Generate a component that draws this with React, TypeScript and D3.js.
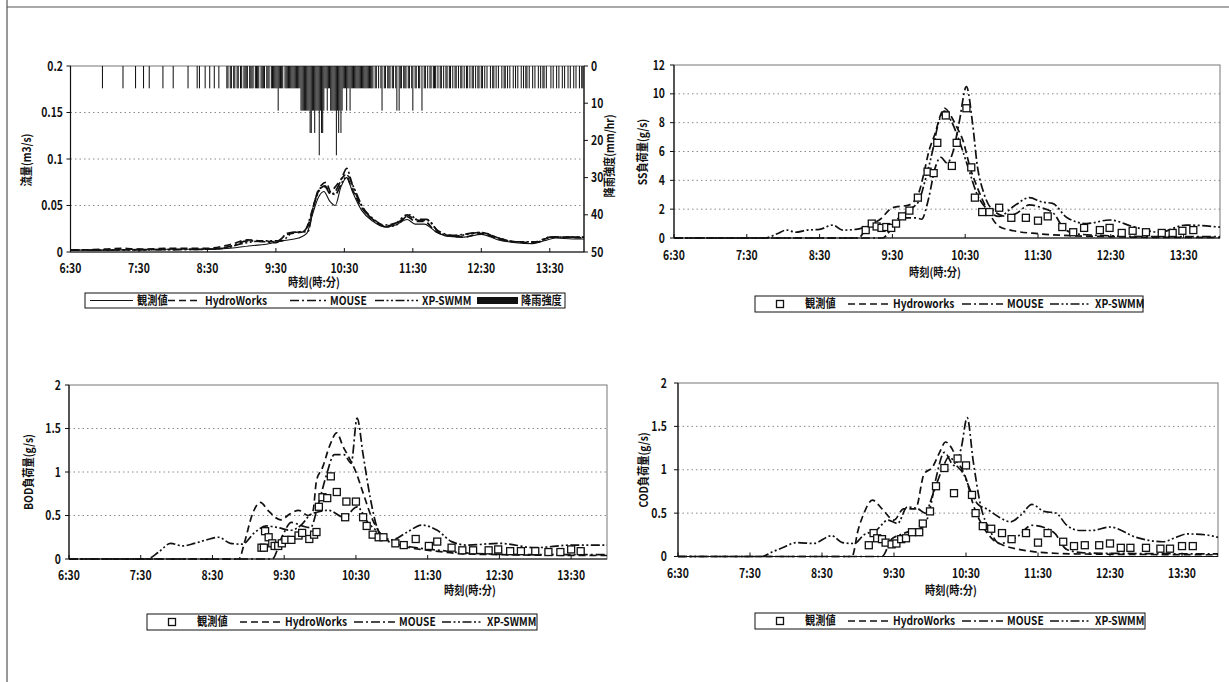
import React from 'react';
import * as d3 from 'd3';

type P = [string, number];

const timeStart = '6:30';
const timeEnd = '14:00';
const timeTicks = ['6:30', '7:30', '8:30', '9:30', '10:30', '11:30', '12:30', '13:30'];

const flowTicks = [0, 0.05, 0.1, 0.15, 0.2];
const rainTicks = [0, 10, 20, 30, 40, 50];
const ssTicks = [0, 2, 4, 6, 8, 10, 12];
const loadTicks = [0, 0.5, 1, 1.5, 2];

// rainfall intensity, one digit per minute from 6:30 (value = digit x rainUnit mm/hr)
const rainUnit = 6;
const rainCodes = [
  '000000000000000000000000000010',
  '000000000000000010000000000100',
  '000010000100000000000100000000',
  '100000000000010000000101000010',
  '001000100010000001101101101101',
  '101111011110111101111011101111',
  '112111101111111111111122222222',
  '332232224233211211222224232321',
  '112112111111111111111111110110',
  '101201101110110120211011101101',
  '201101102011010110111010110101',
  '101101011010110101101011010110',
  '110101001011010100101101010010',
  '101001010110100101001010110100',
  '010100101001010010100101001011',
];

// ---- flow (m3/s)
const flowObs: P[] = [
  ['6:30', 0.002], ['7:00', 0.002], ['7:30', 0.003], ['8:00', 0.003], ['8:30', 0.003], ['8:50', 0.004],
  ['9:10', 0.007], ['9:20', 0.008], ['9:35', 0.012], ['9:50', 0.015], ['9:57', 0.02], ['10:02', 0.04],
  ['10:07', 0.058], ['10:12', 0.065], ['10:17', 0.055], ['10:22', 0.05], ['10:27', 0.07], ['10:32', 0.08],
  ['10:37', 0.065], ['10:45', 0.045], ['10:55', 0.033], ['11:05', 0.027], ['11:15', 0.029], ['11:25', 0.035],
  ['11:32', 0.03], ['11:40', 0.03], ['11:50', 0.022], ['12:00', 0.017], ['12:15', 0.016], ['12:30', 0.019],
  ['12:45', 0.013], ['13:00', 0.01], ['13:15', 0.009], ['13:25', 0.012], ['13:35', 0.015], ['13:50', 0.014], ['14:00', 0.014],
];
const flowHW: P[] = [
  ['6:30', 0.002], ['7:00', 0.003], ['7:15', 0.004], ['7:30', 0.003], ['8:00', 0.004], ['8:30', 0.004], ['8:50', 0.008],
  ['9:05', 0.013], ['9:15', 0.012], ['9:30', 0.011], ['9:40', 0.019], ['9:55', 0.022], ['10:00', 0.035], ['10:05', 0.058],
  ['10:10', 0.072], ['10:14', 0.075], ['10:18', 0.065], ['10:22', 0.07], ['10:27', 0.078], ['10:31', 0.083], ['10:36', 0.07],
  ['10:45', 0.048], ['10:55', 0.035], ['11:05', 0.028], ['11:15', 0.03], ['11:25', 0.038], ['11:32', 0.033], ['11:40', 0.033],
  ['11:50', 0.022], ['12:00', 0.018], ['12:15', 0.016], ['12:30', 0.02], ['12:45', 0.014], ['13:00', 0.011], ['13:15', 0.01],
  ['13:25', 0.014], ['13:35', 0.016], ['14:00', 0.015],
];
const flowMOUSE: P[] = [
  ['6:30', 0.002], ['8:30', 0.003], ['8:50', 0.006], ['9:05', 0.012], ['9:20', 0.011], ['9:30', 0.01], ['9:40', 0.02],
  ['9:55', 0.023], ['10:02', 0.045], ['10:08', 0.068], ['10:13', 0.07], ['10:18', 0.062], ['10:22', 0.065], ['10:28', 0.08],
  ['10:32', 0.09], ['10:37', 0.072], ['10:45', 0.05], ['10:55', 0.036], ['11:05', 0.029], ['11:15', 0.031], ['11:25', 0.04],
  ['11:32', 0.035], ['11:42', 0.035], ['11:52', 0.023], ['12:05', 0.018], ['12:30', 0.021], ['12:45', 0.015], ['13:00', 0.011],
  ['13:20', 0.011], ['13:30', 0.016], ['14:00', 0.016],
];
const flowXP: P[] = [
  ['6:30', 0.002], ['8:30', 0.003], ['8:45', 0.004], ['9:00', 0.009], ['9:20', 0.012], ['9:35', 0.012], ['9:45', 0.021],
  ['9:58', 0.022], ['10:03', 0.05], ['10:08', 0.066], ['10:13', 0.071], ['10:18', 0.063], ['10:22', 0.062], ['10:28', 0.075],
  ['10:33', 0.082], ['10:38', 0.07], ['10:47', 0.046], ['10:57', 0.033], ['11:07', 0.027], ['11:17', 0.03], ['11:27', 0.04],
  ['11:35', 0.034], ['11:43', 0.034], ['11:53', 0.021], ['12:05', 0.017], ['12:30', 0.021], ['12:45', 0.015], ['13:00', 0.011],
  ['13:20', 0.011], ['13:30', 0.016], ['14:00', 0.016],
];

// ---- SS load (g/s)
const ssObs: P[] = [
  ['9:08', 0.55], ['9:13', 1.0], ['9:17', 0.8], ['9:21', 0.7], ['9:25', 0.76], ['9:29', 0.7], ['9:33', 1.0], ['9:38', 1.5],
  ['9:44', 1.9], ['9:51', 2.8], ['9:59', 4.6], ['10:04', 4.5], ['10:07', 6.6], ['10:14', 8.5], ['10:19', 5.0], ['10:23', 6.6],
  ['10:31', 9.0], ['10:35', 4.9], ['10:38', 2.8], ['10:44', 1.8], ['10:50', 1.8], ['10:58', 2.1], ['11:08', 1.4], ['11:20', 1.4],
  ['11:30', 1.2], ['11:38', 1.5], ['11:50', 0.76], ['11:59', 0.4], ['12:08', 0.7], ['12:21', 0.55], ['12:29', 0.7], ['12:39', 0.35],
  ['12:48', 0.5], ['12:59', 0.4], ['13:12', 0.35], ['13:21', 0.35], ['13:29', 0.5], ['13:38', 0.55],
];
const ssHW: P[] = [
  ['6:30', 0], ['9:02', 0], ['9:08', 0.6], ['9:12', 0.9], ['9:20', 1.3], ['9:30', 2.1], ['9:44', 2.3], ['9:52', 3.2],
  ['9:56', 4.5], ['10:00', 6.0], ['10:05', 7.2], ['10:10', 8.6], ['10:13', 9.0], ['10:18', 8.5], ['10:23', 7.7], ['10:28', 6.8],
  ['10:34', 4.9], ['10:40', 3.5], ['10:48', 2.0], ['10:58', 0.8], ['11:10', 0.5], ['11:30', 0.3], ['12:00', 0.15], ['12:30', 0.1],
  ['13:00', 0.05], ['14:00', 0.05],
];
const ssMOUSE: P[] = [
  ['6:30', 0], ['9:22', 0], ['9:28', 0.5], ['9:36', 1.4], ['9:50', 1.4], ['9:54', 1.3], ['10:00', 2.8], ['10:05', 4.8],
  ['10:10', 5.6], ['10:15', 5.2], ['10:20', 6.0], ['10:25', 8.0], ['10:31', 10.5], ['10:36', 8.0], ['10:40', 5.0], ['10:45', 3.2],
  ['10:52', 2.0], ['11:04', 1.5], ['11:12', 1.7], ['11:23', 2.3], ['11:33', 2.1], ['11:43', 1.7], ['11:50', 0.8], ['12:00', 0.3],
  ['12:30', 0.15], ['13:00', 0.1], ['14:00', 0.1],
];
const ssXP: P[] = [
  ['6:30', 0], ['7:45', 0], ['7:55', 0.3], ['8:03', 0.55], ['8:10', 0.4], ['8:20', 0.55], ['8:30', 0.6], ['8:41', 0.9],
  ['8:49', 0.55], ['9:00', 0.6], ['9:08', 0.75], ['9:15', 0.9], ['9:25', 0.7], ['9:35', 1.2], ['9:42', 1.9], ['9:48', 2.2],
  ['9:52', 2.6], ['9:57', 4.0], ['10:03', 6.0], ['10:08', 8.0], ['10:13', 8.8], ['10:18', 8.2], ['10:24', 7.0], ['10:32', 5.0],
  ['10:40', 3.0], ['10:48', 2.0], ['10:58', 1.5], ['11:10', 2.2], ['11:23', 2.8], ['11:33', 2.5], ['11:42', 2.4], ['11:54', 1.4],
  ['12:10', 1.0], ['12:29', 1.25], ['12:48', 0.8], ['13:10', 0.4], ['13:32', 0.9], ['13:54', 0.8], ['14:00', 0.75],
];

// ---- BOD load (g/s)
const bodObs: P[] = [
  ['9:11', 0.13], ['9:13', 0.13], ['9:14', 0.32], ['9:17', 0.25], ['9:20', 0.18], ['9:22', 0.15], ['9:25', 0.15], ['9:28', 0.18],
  ['9:31', 0.22], ['9:36', 0.22], ['9:42', 0.27], ['9:45', 0.3], ['9:51', 0.23], ['9:55', 0.28], ['9:57', 0.31], ['9:59', 0.6],
  ['10:02', 0.71], ['10:06', 0.7], ['10:09', 0.95], ['10:14', 0.77], ['10:21', 0.48], ['10:22', 0.66], ['10:30', 0.66], ['10:36', 0.48],
  ['10:39', 0.38], ['10:44', 0.28], ['10:49', 0.25], ['10:53', 0.25], ['11:03', 0.18], ['11:10', 0.16], ['11:20', 0.23], ['11:31', 0.15],
  ['11:38', 0.2], ['11:50', 0.13], ['11:59', 0.1], ['12:08', 0.1], ['12:21', 0.1], ['12:29', 0.11], ['12:39', 0.09], ['12:48', 0.09],
  ['13:00', 0.09], ['13:11', 0.08], ['13:21', 0.08], ['13:30', 0.11], ['13:38', 0.09],
];
const bodHW: P[] = [
  ['6:30', 0], ['8:52', 0], ['8:57', 0.2], ['9:03', 0.5], ['9:10', 0.65], ['9:17', 0.55], ['9:27', 0.45], ['9:35', 0.52],
  ['9:42', 0.56], ['9:50', 0.5], ['9:54', 0.55], ['9:57', 0.9], ['10:02', 1.05], ['10:08', 1.3], ['10:14', 1.45], ['10:19', 1.3],
  ['10:24', 1.17], ['10:30', 1.0], ['10:35', 0.8], ['10:44', 0.45], ['10:53', 0.25], ['11:03', 0.18], ['11:15', 0.13], ['11:31', 0.1],
  ['12:00', 0.06], ['12:30', 0.05], ['14:00', 0.04],
];
const bodMOUSE: P[] = [
  ['6:30', 0], ['9:20', 0], ['9:28', 0.25], ['9:36', 0.42], ['9:45', 0.38], ['9:52', 0.36], ['9:58', 0.6], ['10:05', 0.95],
  ['10:12', 1.2], ['10:20', 1.2], ['10:26', 1.1], ['10:31', 1.62], ['10:36', 1.2], ['10:42', 0.7], ['10:48', 0.35], ['10:55', 0.22],
  ['11:05', 0.17], ['11:20', 0.13], ['11:40', 0.1], ['12:00', 0.07], ['13:00', 0.05], ['14:00', 0.05],
];
const bodXP: P[] = [
  ['6:30', 0], ['7:35', 0], ['7:45', 0.08], ['7:55', 0.18], ['8:05', 0.15], ['8:15', 0.18], ['8:25', 0.22], ['8:35', 0.25],
  ['8:45', 0.18], ['8:55', 0.17], ['9:05', 0.3], ['9:15', 0.38], ['9:25', 0.36], ['9:35', 0.33], ['9:45', 0.4], ['9:51', 0.5],
  ['9:58', 0.54], ['10:07', 0.56], ['10:20', 0.48], ['10:31', 0.6], ['10:40', 0.42], ['10:47', 0.33], ['11:00', 0.22], ['11:13', 0.31],
  ['11:25', 0.39], ['11:38', 0.33], ['11:50', 0.2], ['12:03', 0.16], ['12:30', 0.18], ['13:00', 0.13], ['13:30', 0.16], ['14:00', 0.16],
];

// ---- COD load (g/s)
const codObs: P[] = [
  ['9:09', 0.13], ['9:13', 0.27], ['9:16', 0.21], ['9:20', 0.2], ['9:23', 0.16], ['9:28', 0.14], ['9:32', 0.15], ['9:36', 0.2],
  ['9:40', 0.21], ['9:45', 0.28], ['9:51', 0.28], ['9:54', 0.38], ['10:00', 0.52], ['10:05', 0.81], ['10:12', 1.02], ['10:20', 0.73],
  ['10:23', 1.13], ['10:30', 1.05], ['10:35', 0.71], ['10:38', 0.5], ['10:44', 0.35], ['10:51', 0.32], ['11:00', 0.27], ['11:08', 0.2],
  ['11:20', 0.27], ['11:30', 0.16], ['11:38', 0.27], ['11:51', 0.17], ['12:00', 0.12], ['12:09', 0.13], ['12:21', 0.13], ['12:30', 0.15],
  ['12:39', 0.1], ['12:47', 0.1], ['13:00', 0.1], ['13:12', 0.09], ['13:20', 0.09], ['13:30', 0.12], ['13:39', 0.12],
];
const codHW: P[] = [
  ['6:30', 0], ['8:55', 0], ['9:00', 0.3], ['9:05', 0.5], ['9:12', 0.65], ['9:20', 0.55], ['9:30', 0.42], ['9:38', 0.55],
  ['9:48', 0.55], ['9:55', 0.95], ['10:02', 1.03], ['10:08', 1.2], ['10:13', 1.32], ['10:18', 1.25], ['10:23', 1.1], ['10:30', 0.9],
  ['10:36', 0.6], ['10:44', 0.35], ['10:52', 0.2], ['11:01', 0.13], ['11:15', 0.08], ['11:30', 0.05], ['12:00', 0.03], ['14:00', 0.02],
];
const codMOUSE: P[] = [
  ['6:30', 0], ['9:20', 0], ['9:28', 0.2], ['9:35', 0.25], ['9:45', 0.3], ['9:55', 0.35], ['10:00', 0.55], ['10:05', 0.9],
  ['10:12', 1.2], ['10:20', 1.05], ['10:26', 1.25], ['10:31', 1.6], ['10:36', 1.1], ['10:42', 0.6], ['10:50', 0.3], ['10:58', 0.15],
  ['11:12', 0.22], ['11:25', 0.36], ['11:43', 0.28], ['11:54', 0.08], ['12:10', 0.04], ['14:00', 0.03],
];
const codXP: P[] = [
  ['6:30', 0], ['7:40', 0], ['7:48', 0.05], ['7:57', 0.1], ['8:09', 0.16], ['8:23', 0.15], ['8:38', 0.24], ['8:47', 0.16],
  ['8:57', 0.15], ['9:05', 0.25], ['9:15', 0.3], ['9:25', 0.42], ['9:33', 0.38], ['9:41', 0.57], ['9:50', 0.55], ['9:56', 0.5],
  ['10:02', 0.7], ['10:10', 1.0], ['10:16', 1.15], ['10:22', 1.05], ['10:28', 0.95], ['10:34', 0.75], ['10:40', 0.6], ['10:47', 0.55],
  ['10:58', 0.45], ['11:07', 0.4], ['11:16', 0.48], ['11:25', 0.6], ['11:35', 0.52], ['11:45', 0.5], ['11:54', 0.36], ['12:05', 0.3],
  ['12:15', 0.3], ['12:30', 0.34], ['12:52', 0.22], ['13:14', 0.17], ['13:25', 0.22], ['13:34', 0.26], ['13:50', 0.25], ['14:00', 0.22],
];

// ---------------------------------------------------------------------------
const FONT = '"Noto Sans CJK JP", "Noto Sans", sans-serif';
const INK = '#111';
const toMin = (s: string) => {
  const [h, m] = s.split(':').map(Number);
  const [h0, m0] = timeStart.split(':').map(Number);
  return h * 60 + m - (h0 * 60 + m0);
};

const STY: Record<string, { dash: string | undefined; width: number }> = {
  obs: { dash: undefined, width: 1.1 },
  hw: { dash: '7,4', width: 1.7 },
  mouse: { dash: '9,3,2,3', width: 1.7 },
  xp: { dash: '9,2.5,2,2.5,2,2.5', width: 1.7 },
};

function T(props: {
  x: number; y: number; size?: number; sx?: number; anchor?: string; rotate?: number; weight?: string | number; children: any;
}) {
  const { x, y, size = 12, sx = 0.85, anchor = 'middle', rotate = 0, weight = 'bold', children } = props;
  return (
    <text
      transform={`translate(${x},${y}) rotate(${rotate}) scale(${sx},1)`}
      fontSize={size}
      textAnchor={anchor as any}
      fontFamily={FONT}
      fontWeight={weight as any}
      fill={INK}
      dy="0.35em"
    >
      {children}
    </text>
  );
}

interface LineDef { key: string; data: P[] }
interface PanelProps {
  left: number; top: number; right: number; bottom: number;
  yMax: number; yTicks: number[];
  yTitle: string; yTitleX: number; yTitleY: number;
  yLabelX: number; xLabelY: number; xTitleX: number; xTitleY: number;
  lines: LineDef[];
  obs?: P[];
  obsAsLine?: boolean;
  rain?: number[];
}

function Panel(p: PanelProps) {
  const x = d3.scaleLinear().domain([0, toMin(timeEnd)]).range([p.left, p.right]);
  const y = d3.scaleLinear().domain([0, p.yMax]).range([p.bottom, p.top]);
  const line = d3
    .line<P>()
    .x((d) => x(toMin(d[0])))
    .y((d) => y(d[1]))
    .curve(d3.curveMonotoneX);
  const yr = d3.scaleLinear().domain([0, 50]).range([p.top, p.bottom]);
  const minuteW = x(1) - x(0);
  return (
    <g>
      {p.yTicks
        .filter((t) => t > 0 && t < p.yMax)
        .map((t) => (
          <line key={'g' + t} x1={p.left} x2={p.right} y1={y(t)} y2={y(t)} stroke="#8a8a8a" strokeWidth={1} strokeDasharray="1.5,3" />
        ))}
      <rect x={p.left} y={p.top} width={p.right - p.left} height={p.bottom - p.top} fill="none" stroke="#777" strokeWidth={1} />
      {p.rain &&
        p.rain.map((v, i) =>
          v > 0 ? (
            <rect key={'r' + i} x={x(i) - minuteW * 0.45} y={yr(0)} width={Math.max(0.9, minuteW * 0.9)} height={yr(v) - yr(0)} fill={INK} />
          ) : null
        )}
      {p.lines.map((l) => (
        <path
          key={l.key}
          d={line(l.data) || ''}
          fill="none"
          stroke={INK}
          strokeWidth={STY[l.key].width}
          strokeDasharray={STY[l.key].dash}
          strokeLinejoin="round"
        />
      ))}
      {p.obs && p.obsAsLine && <path d={line(p.obs) || ''} fill="none" stroke={INK} strokeWidth={STY.obs.width} />}
      {p.obs &&
        !p.obsAsLine &&
        p.obs.map((d, i) => (
          <rect key={'o' + i} x={x(toMin(d[0])) - 3.5} y={y(d[1]) - 3.5} width={7} height={7} fill="white" stroke={INK} strokeWidth={1.3} />
        ))}
      <line x1={p.left} x2={p.left} y1={p.top} y2={p.bottom} stroke={INK} strokeWidth={1.2} />
      <line x1={p.left} x2={p.right} y1={p.bottom} y2={p.bottom} stroke={INK} strokeWidth={1.2} />
      {p.yTicks.map((t) => (
        <g key={'yt' + t}>
          <line x1={p.left - 4} x2={p.left} y1={y(t)} y2={y(t)} stroke={INK} />
          <T x={p.yLabelX} y={y(t)} anchor="end" size={13} sx={0.8}>
            {String(t)}
          </T>
        </g>
      ))}
      {timeTicks.map((t) => (
        <g key={'xt' + t}>
          <line x1={x(toMin(t))} x2={x(toMin(t))} y1={p.bottom} y2={p.bottom - 4} stroke={INK} />
          <T x={x(toMin(t))} y={p.xLabelY} size={13} sx={0.8}>
            {t}
          </T>
        </g>
      ))}
      <T x={p.yTitleX} y={p.yTitleY} rotate={-90} size={12} sx={0.85}>
        {p.yTitle}
      </T>
      <T x={p.xTitleX} y={p.xTitleY} size={12} sx={0.85}>
        時刻(時:分)
      </T>
      {p.rain && (
        <g>
          <line x1={p.right} x2={p.right} y1={p.top} y2={p.bottom} stroke={INK} strokeWidth={1.2} />
          {rainTicks.map((t) => (
            <g key={'rt' + t}>
              <line x1={p.right} x2={p.right + 4} y1={yr(t)} y2={yr(t)} stroke={INK} />
              <T x={p.right + 7} y={yr(t)} anchor="start" size={13} sx={0.8}>
                {String(t)}
              </T>
            </g>
          ))}
          <T x={p.right + 26} y={(p.top + p.bottom) / 2 - 3} rotate={-90} size={12} sx={0.85}>
            降雨強度(mm/hr)
          </T>
        </g>
      )}
    </g>
  );
}

interface LegendItem { kind: 'line' | 'square' | 'bar'; sty?: string; a: number; b: number; label: string; lx: number }
function Legend({ x0, y0, w, h, items }: { x0: number; y0: number; w: number; h: number; items: LegendItem[] }) {
  const yc = y0 + h / 2;
  return (
    <g>
      <rect x={x0} y={y0} width={w} height={h} fill="white" stroke={INK} strokeWidth={1} />
      {items.map((it, i) => (
        <g key={i}>
          {it.kind === 'line' && (
            <line x1={x0 + it.a} x2={x0 + it.b} y1={yc} y2={yc} stroke={INK} strokeWidth={STY[it.sty!].width} strokeDasharray={STY[it.sty!].dash} />
          )}
          {it.kind === 'square' && (
            <rect x={x0 + it.a - 3.5} y={yc - 3.5} width={7} height={7} fill="white" stroke={INK} strokeWidth={1.3} />
          )}
          {it.kind === 'bar' && <rect x={x0 + it.a} y={yc - 3.5} width={it.b - it.a} height={7} fill={INK} />}
          <T x={x0 + it.lx} y={yc} anchor="start" size={12} sx={0.85}>
            {it.label}
          </T>
        </g>
      ))}
    </g>
  );
}

function loadLegend(hwLabel: string): LegendItem[] {
  return [
    { kind: 'square', a: 25, b: 25, label: '観測値', lx: 50 },
    { kind: 'line', sty: 'hw', a: 93, b: 133, label: hwLabel, lx: 138 },
    { kind: 'line', sty: 'mouse', a: 207, b: 248, label: 'MOUSE', lx: 252 },
    { kind: 'line', sty: 'xp', a: 295, b: 335, label: 'XP-SWMM', lx: 340 },
  ];
}

export default function App() {
  const rain = rainCodes.join('').split('').map((c) => Number(c) * rainUnit);
  return (
    <svg width={1229} height={682} style={{ position: 'absolute', left: 0, top: 0, background: 'white' }}>
      <rect x={0} y={0} width={1229} height={682} fill="white" />
      <line x1={7} x2={7} y1={0} y2={682} stroke="#333" strokeWidth={1} />
      <line x1={7} x2={1229} y1={7} y2={7} stroke="#555" strokeWidth={1} />

      <Panel
        left={70.5} top={66} right={584} bottom={252}
        yMax={0.2} yTicks={flowTicks}
        yTitle="流量(m3/s)" yTitleX={27} yTitleY={160}
        yLabelX={63} xLabelY={268} xTitleX={314} xTitleY={283}
        lines={[{ key: 'hw', data: flowHW }, { key: 'mouse', data: flowMOUSE }, { key: 'xp', data: flowXP }]}
        obs={flowObs} obsAsLine
        rain={rain}
      />
      <Legend
        x0={85} y0={293} w={480} h={15}
        items={[
          { kind: 'line', sty: 'obs', a: 5, b: 48, label: '観測値', lx: 52 },
          { kind: 'line', sty: 'hw', a: 83, b: 116, label: 'HydroWorks', lx: 120 },
          { kind: 'line', sty: 'mouse', a: 205, b: 241, label: 'MOUSE', lx: 245 },
          { kind: 'line', sty: 'xp', a: 290, b: 333, label: 'XP-SWMM', lx: 337 },
          { kind: 'bar', a: 392, b: 433, label: '降雨強度', lx: 436 },
        ]}
      />

      <Panel
        left={674} top={65} right={1220} bottom={238}
        yMax={12} yTicks={ssTicks}
        yTitle="SS負荷量(g/s)" yTitleX={643} yTitleY={152}
        yLabelX={665} xLabelY={255} xTitleX={935} xTitleY={273}
        lines={[{ key: 'hw', data: ssHW }, { key: 'mouse', data: ssMOUSE }, { key: 'xp', data: ssXP }]}
        obs={ssObs}
      />
      <Legend x0={755} y0={296} w={388} h={16} items={loadLegend('Hydroworks')} />

      <Panel
        left={69} top={385} right={607} bottom={559}
        yMax={2} yTicks={loadTicks}
        yTitle="BOD負荷量(g/s)" yTitleX={29} yTitleY={472}
        yLabelX={61} xLabelY={575} xTitleX={470} xTitleY={591}
        lines={[{ key: 'hw', data: bodHW }, { key: 'mouse', data: bodMOUSE }, { key: 'xp', data: bodXP }]}
        obs={bodObs}
      />
      <Legend x0={147} y0={614} w={390} h={16} items={loadLegend('HydroWorks')} />

      <Panel
        left={678} top={383} right={1218} bottom={556.5}
        yMax={2} yTicks={loadTicks}
        yTitle="COD負荷量(g/s)" yTitleX={644} yTitleY={470}
        yLabelX={667} xLabelY={573} xTitleX={951} xTitleY={591}
        lines={[{ key: 'hw', data: codHW }, { key: 'mouse', data: codMOUSE }, { key: 'xp', data: codXP }]}
        obs={codObs}
      />
      <Legend x0={755} y0={613} w={390} h={16} items={loadLegend('HydroWorks')} />
    </svg>
  );
}
